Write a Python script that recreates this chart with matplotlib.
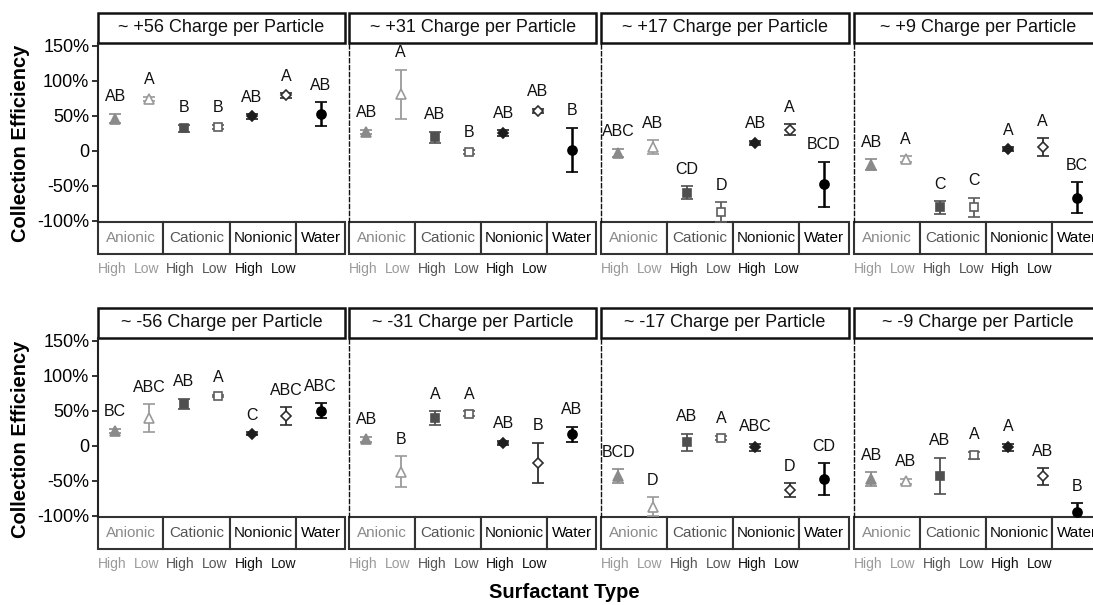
import matplotlib
matplotlib.use("Agg")
import matplotlib.pyplot as plt
from matplotlib.patches import Rectangle
from matplotlib.ticker import FuncFormatter
from matplotlib.transforms import ScaledTranslation

plt.rcParams['font.family'] = ['Liberation Sans', 'DejaVu Sans']

# panel titles, surfactant groups and concentration levels
titles = ['~ +56 Charge per Particle', '~ +31 Charge per Particle',
          '~ +17 Charge per Particle', '~ +9 Charge per Particle',
          '~ -56 Charge per Particle', '~ -31 Charge per Particle',
          '~ -17 Charge per Particle', '~ -9 Charge per Particle']
surfactants = ['Anionic', 'Cationic', 'Nonionic', 'Water']
levels = ['High', 'Low', 'High', 'Low', 'High', 'Low']

# mean collection efficiency (%) per treatment:
# Anionic High/Low, Cationic High/Low, Nonionic High/Low, Water
means = [
    [46, 74, 32, 34, 49, 79, 52],
    [27, 81, 19, -2, 25, 57, 1],
    [-3, 5, -60, -88, 11, 30, -48],
    [-20, -12, -81, -81, 2, 5, -67],
    [21, 39, 60, 71, 17, 42, 50],
    [9, -37, 39, 46, 4, -25, 16],
    [-44, -87, 5, 11, -2, -64, -48],
    [-48, -51, -43, -14, -2, -44, -95],
]
errors = [
    [7, 3, 5, 3, 3, 3, 17],
    [3, 35, 8, 3, 4, 3, 32],
    [6, 10, 9, 14, 3, 8, 32],
    [8, 4, 9, 14, 3, 13, 22],
    [3, 20, 7, 2, 2, 13, 11],
    [4, 22, 10, 3, 3, 29, 11],
    [10, 13, 12, 3, 5, 10, 23],
    [10, 4, 26, 5, 5, 12, 13],
]
letters = [
    ['AB', 'A', 'B', 'B', 'AB', 'A', 'AB'],
    ['AB', 'A', 'AB', 'B', 'AB', 'AB', 'B'],
    ['ABC', 'AB', 'CD', 'D', 'AB', 'A', 'BCD'],
    ['AB', 'A', 'C', 'C', 'A', 'A', 'BC'],
    ['BC', 'ABC', 'AB', 'A', 'C', 'ABC', 'ABC'],
    ['AB', 'B', 'A', 'A', 'AB', 'B', 'AB'],
    ['BCD', 'D', 'AB', 'A', 'ABC', 'D', 'CD'],
    ['AB', 'AB', 'AB', 'A', 'A', 'AB', 'B'],
]

# marker styling per treatment
markers = ['^', '^', 's', 's', 'D', 'D', 'o']
colors = ['#8a8a8a', '#9a9a9a', '#4f4f4f', '#5e5e5e', '#1e1e1e', '#2e2e2e', '#000000']
filled = [True, False, True, False, True, False, True]
msizes = [6.5, 6.5, 6, 6, 5, 5, 6.5]
group_text_colors = ['#8a8a8a', '#555555', '#111111', '#000000']
level_text_colors = ['#9a9a9a', '#9a9a9a', '#555555', '#555555', '#111111', '#111111']
group_edges = [0, 0.265, 0.533, 0.802, 1.0]

W, H = 1093, 605
fig = plt.figure(figsize=(W / 100, H / 100), dpi=100)

col_left = [97.7, 349, 601, 854]
panel_w = 247.5
row_top = [43, 338]
panel_h = 179
strip_h = 30 / panel_h
box_h = 32 / panel_h

x = list(range(1, 8))

for p in range(8):
    r, c = divmod(p, 4)
    ax = fig.add_axes([col_left[c] / W, 1 - (row_top[r] + panel_h) / H,
                       panel_w / W, panel_h / H])
    ax.set_xlim(0.49, 7.72)
    ax.set_ylim(-102, 154)

    for i in range(7):
        col = colors[i]
        lw = 1.8 if i == 6 else 1.3
        ax.errorbar(x[i], means[p][i], yerr=errors[p][i], fmt=markers[i],
                    color=col, mfc=col if filled[i] else 'white', mec=col,
                    mew=1.2, ms=msizes[i], capsize=4.5, elinewidth=lw,
                    capthick=lw, zorder=3)
        ax.annotate(letters[p][i], (x[i], means[p][i] + errors[p][i]),
                    xytext=(0, 9), textcoords='offset points',
                    ha='center', va='baseline', fontsize=11.5, color='#111111')

    for s in ['top', 'right', 'bottom']:
        ax.spines[s].set_visible(False)
    if c == 0:
        ax.spines['left'].set_linewidth(1.5)
        ax.spines['left'].set_color('#222222')
        ax.set_yticks([-100, -50, 0, 50, 100, 150])
        ax.yaxis.set_major_formatter(
            FuncFormatter(lambda v, pos: '0' if v == 0 else f'{int(v)}%'))
        ax.tick_params(axis='y', length=4, width=1.3, color='#222222',
                       pad=2, labelsize=13)
    else:
        ax.spines['left'].set_linestyle((0, (3, 2)))
        ax.spines['left'].set_linewidth(1.0)
        ax.spines['left'].set_color('#111111')
        ax.set_yticks([])

    ax.set_xticks(x[:6])
    ax.set_xticklabels(levels, fontsize=10)
    ax.tick_params(axis='x', length=0, pad=29)
    for lbl, tc in zip(ax.get_xticklabels(), level_text_colors):
        lbl.set_color(tc)
        lbl.set_transform(lbl.get_transform()
                          + ScaledTranslation(-3 / 100, 0, fig.dpi_scale_trans))

    # title strip above the panel
    ax.add_patch(Rectangle((0, 1), 1, strip_h, transform=ax.transAxes,
                           clip_on=False, fc='white', ec='#111111', lw=1.8))
    ax.text(0.5, 1 + strip_h / 2, titles[p], transform=ax.transAxes,
            ha='center', va='center', fontsize=13, color='#111111')

    # surfactant group boxes under the panel
    for g in range(4):
        x0, x1 = group_edges[g], group_edges[g + 1]
        ax.add_patch(Rectangle((x0, -box_h), x1 - x0, box_h,
                               transform=ax.transAxes, clip_on=False,
                               fc='white', ec='#333333', lw=1.5))
        ax.text((x0 + x1) / 2, -box_h / 2, surfactants[g],
                transform=ax.transAxes, ha='center', va='center',
                fontsize=11, color=group_text_colors[g])

fig.text(21 / W, 1 - 143 / H, 'Collection Efficiency', rotation=90,
         ha='center', va='center', fontsize=14.5, fontweight='bold')
fig.text(21 / W, 1 - 439 / H, 'Collection Efficiency', rotation=90,
         ha='center', va='center', fontsize=14.5, fontweight='bold')
fig.text(564 / W, 1 - 593 / H, 'Surfactant Type', ha='center', va='center',
         fontsize=14.5, fontweight='bold')

fig.savefig('out.png', dpi=100)
